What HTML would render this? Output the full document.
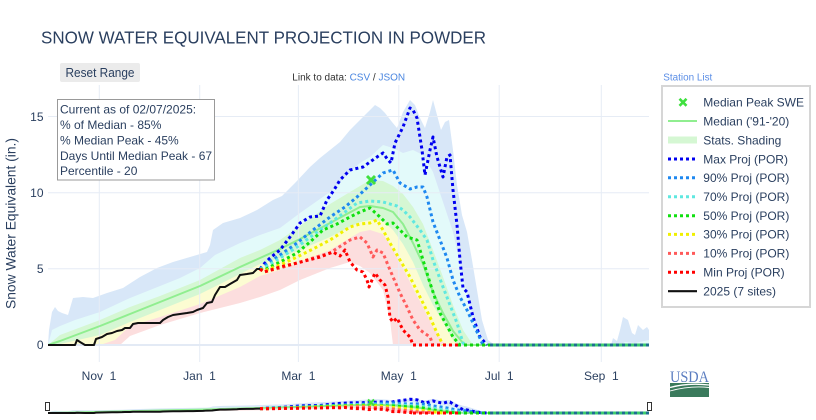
<!DOCTYPE html>
<html><head><meta charset="utf-8">
<style>
html,body{margin:0;padding:0;background:#fff;}
svg{display:block;font-family:"Liberation Sans",Arial,sans-serif;}
</style></head><body>
<svg width="816" height="420" viewBox="0 0 816 420" xmlns="http://www.w3.org/2000/svg">
<defs>
<clipPath id="pc"><rect x="48" y="85" width="601" height="277"/></clipPath>
<clipPath id="sc"><rect x="48" y="394" width="601" height="21"/></clipPath>
<g id="fills" stroke="none">
 <polygon fill="#d8e7f8" points="48,345 49,330 52,312 55,307 58,311 62,313 68,315 73,298 83,297 93,298 107,293 123,288 140,277 157,268 173,262 190,257 207,252 210,245 213,230 223,223 240,218 257,210 273,200 282,196 295,183 310,167 320,158 330,150 340,142 350,130 360,120 368,112 375,105 380,108 385,113 392,122 397,128 403,112 410,100 415,105 420,118 425,128 430,112 433,100 437,115 441,130 445,122 449,120 453,150 457,185 462,215 467,232 472,260 477,290 482,320 488,340 495,345 611,345 613,338 617,341 620,330 623,317 628,320 632,333 635,335 638,325 643,330 647,327 649,330 649,345"/>
 <polygon fill="#e3fafa" points="620,345 625,342 635,343 649,340 649,345"/>
 <polygon fill="#e3fafa" points="48,345 52,330 60,326 75,320 100,312 130,298 160,286 180,278 200,268 215,255 240,243 260,235 280,228 300,213 330,192 350,172 360,163 370,157 383,145 393,148 403,153 413,150 423,155 433,172 443,202 453,232 463,277 473,317 483,340 490,345"/>
 <polygon fill="#d5f7d3" points="48,345 60,335 100,320 130,307 160,296 200,280 240,258 260,250 280,240 300,226 330,204 360,186 370,180 383,181 393,186 403,194 413,207 423,224 433,250 443,277 453,305 463,330 473,345"/>
 <polygon fill="#fcfcd2" points="48,345 60,344 100,335 130,322 160,310 200,294 240,274 260,264 280,258 300,250 330,237 360,222 370,220 383,221 393,230 403,244 413,262 423,285 433,305 443,322 453,340 458,345"/>
 <polygon fill="#fcdede" points="48,345 100,345 115,340 130,326 160,317 200,304 240,287 260,276 280,270 300,262 330,250 360,232 370,230 383,234 393,250 403,268 413,288 423,307 433,327 443,342 447,345"/>
 <polygon fill="#ffffff" points="48,345 120,345 130,336 160,325 200,313 240,303 260,297 280,290 300,280 330,268 350,262 360,266 370,273 383,290 390,320 393,345"/>
</g>
<g id="lines" fill="none" stroke-linejoin="round">
 <polyline vector-effect="non-scaling-stroke" stroke="#90ee90" stroke-width="2" points="48,345 60,341 100,326 130,314 160,302 200,286 240,267 260,258 280,249 300,239 330,223 360,207 370,206 383,208 393,212 403,224 413,243 423,264 433,292 443,313 453,331 463,343 466,345 649,345"/>
 <polyline vector-effect="non-scaling-stroke" stroke="#0000f0" stroke-width="3" stroke-dasharray="3 3" points="260,269 264,264 270,258 280,250 290,237 300,223 310,217 320,216 327,200 334,190 340,180 350,170 363,167 377,157 383,153 388,160 391,163 395,143 403,127 410,108 413,110 417,118 422,150 425,175 430,150 433,137 437,157 443,177 447,157 450,155 453,190 457,225 460,260 463,288 467,292 473,317 480,337 487,345"/>
 <polyline vector-effect="non-scaling-stroke" stroke="#1e88f0" stroke-width="3" stroke-dasharray="3 3" points="260,269 264,266 280,255 297,243 313,230 330,217 345,207 357,197 370,185 383,173 393,170 400,183 410,189 417,187 423,187 427,197 433,222 440,240 447,258 453,280 460,297 467,310 473,323 483,345"/>
 <polyline vector-effect="non-scaling-stroke" stroke="#5fe8e0" stroke-width="3" stroke-dasharray="3 3" points="260,269 264,268 280,258 297,247 313,235 330,223 345,212 357,203 370,201 383,202 397,206 403,210 410,217 420,230 427,240 433,260 443,287 450,305 457,323 463,343 466,345"/>
 <polyline vector-effect="non-scaling-stroke" stroke="#10e010" stroke-width="3" stroke-dasharray="3 3" points="260,269 264,270 280,262 297,253 310,242 323,230 337,224 350,217 360,212 370,208 380,217 387,224 393,223 400,230 407,237 417,240 423,260 430,283 440,313 453,337 460,345"/>
 <polyline vector-effect="non-scaling-stroke" stroke="#f0f000" stroke-width="3" stroke-dasharray="3 3" points="260,269 264,271 280,265 297,257 313,249 330,240 350,227 360,224 370,223 377,220 383,230 390,243 400,260 410,277 420,297 430,317 437,333 443,345"/>
 <polyline vector-effect="non-scaling-stroke" stroke="#ff5a5a" stroke-width="3" stroke-dasharray="3 3" points="260,269 264,272 280,268 297,263 313,258 330,253 350,240 360,237 367,243 373,257 377,250 383,253 390,270 400,293 407,307 413,320 420,330 430,337 433,345"/>
 <polyline vector-effect="non-scaling-stroke" stroke="#ff0000" stroke-width="3" stroke-dasharray="3 3" points="260,269 264,272 280,267 297,263 320,257 333,252 340,256 345,250 350,262 357,270 363,272 367,280 369,287 372,280 375,273 380,280 385,285 388,297 390,318 393,322 397,318 403,330 410,337 413,345"/>
 <line vector-effect="non-scaling-stroke" x1="413" y1="345" x2="458" y2="345" stroke="#ff0000" stroke-width="3" stroke-dasharray="3 3"/>
 <line vector-effect="non-scaling-stroke" x1="458" y1="345" x2="490" y2="345" stroke="#10d010" stroke-width="3" stroke-dasharray="3 3"/>
 <line vector-effect="non-scaling-stroke" x1="490" y1="345" x2="649" y2="345" stroke="#3ccb6e" stroke-width="3"/>
 <line vector-effect="non-scaling-stroke" x1="490" y1="345" x2="649" y2="345" stroke="#1d6f8f" stroke-width="3" stroke-dasharray="3 3"/>
 <polyline vector-effect="non-scaling-stroke" stroke="#111" stroke-width="2" points="48,345 75,345 77,340 80,342 85,345 94,345 96,339 102,337 107,334 112,333 117,331 122,330 125,328 130,328 133,324 138,323 160,323 163,320 168,317 173,315 180,314 187,313 193,312 197,310 203,308 207,303 212,302 215,295 220,287 225,287 230,284 237,280 240,275 247,274 253,273 257,269 260,269"/>
</g>
</defs>

<!-- Title -->
<text x="41" y="43.3" font-size="17.5" fill="#2a3f5f" textLength="445" lengthAdjust="spacingAndGlyphs">SNOW WATER EQUIVALENT PROJECTION IN POWDER</text>

<!-- Reset Range button -->
<rect x="60" y="63" width="80" height="19" rx="2" fill="#ebebeb"/>
<text x="65.5" y="77" font-size="12.5" fill="#2a3f5f" textLength="69" lengthAdjust="spacingAndGlyphs">Reset Range</text>

<!-- Link to data -->
<text x="292.3" y="80.5" font-size="10" fill="#333"><tspan>Link to data: </tspan><tspan fill="#4a86e0">CSV</tspan><tspan> / </tspan><tspan fill="#4a86e0">JSON</tspan></text>

<!-- Station list -->
<text x="663.3" y="80.5" font-size="10" fill="#5b8ee6" textLength="49" lengthAdjust="spacingAndGlyphs">Station List</text>

<!-- Main plot -->
<g clip-path="url(#pc)">
 <use href="#fills"/>
 <g stroke="#e6ecf5" stroke-width="1">
  <line x1="99.3" y1="85" x2="99.3" y2="362"/>
  <line x1="199.7" y1="85" x2="199.7" y2="362"/>
  <line x1="298.4" y1="85" x2="298.4" y2="362"/>
  <line x1="398.8" y1="85" x2="398.8" y2="362"/>
  <line x1="499.2" y1="85" x2="499.2" y2="362"/>
  <line x1="601.3" y1="85" x2="601.3" y2="362"/>
  <line x1="48" y1="116.5" x2="649" y2="116.5"/>
  <line x1="48" y1="192.7" x2="649" y2="192.7"/>
  <line x1="48" y1="268.8" x2="649" y2="268.8"/>
 </g>
 <line x1="48" y1="345" x2="649" y2="345" stroke="#e3eaf5" stroke-width="2"/>
 <use href="#lines"/>
 <g stroke="#3fe03f" stroke-width="3">
  <line x1="367" y1="176" x2="375" y2="184"/>
  <line x1="375" y1="176" x2="367" y2="184"/>
 </g>
</g>

<!-- Y axis ticks -->
<g font-size="12" fill="#2a3f5f" text-anchor="end">
 <text x="43.5" y="121">15</text>
 <text x="43.5" y="197">10</text>
 <text x="43.5" y="273">5</text>
 <text x="43.5" y="349">0</text>
</g>
<text transform="translate(15.5,223.5) rotate(-90)" font-size="14" fill="#2a3f5f" text-anchor="middle" textLength="171" lengthAdjust="spacingAndGlyphs">Snow Water Equivalent (in.)</text>

<!-- X axis ticks -->
<g font-size="12" fill="#2a3f5f" text-anchor="middle">
 <text x="99" y="380">Nov&#160;&#160;1</text>
 <text x="199.5" y="380">Jan&#160;&#160;1</text>
 <text x="298.4" y="380">Mar&#160;&#160;1</text>
 <text x="398.8" y="380">May&#160;&#160;1</text>
 <text x="499.2" y="380">Jul&#160;&#160;1</text>
 <text x="601.3" y="380">Sep&#160;&#160;1</text>
</g>

<!-- Info box -->
<rect x="57.5" y="99.5" width="157" height="80.5" fill="#fff" stroke="#999" stroke-width="1"/>
<g font-size="12" fill="#2a3f5f">
 <text x="60" y="113.6">Current as of 02/07/2025:</text>
 <text x="60" y="129">% of Median - 85%</text>
 <text x="60" y="144.4">% Median Peak - 45%</text>
 <text x="60" y="159.8">Days Until Median Peak - 67</text>
 <text x="60" y="175.2">Percentile - 20</text>
</g>

<!-- Legend -->
<rect x="662" y="86" width="148" height="221" fill="#fff" stroke="#d6d6d6" stroke-width="2"/>
<g stroke="#3fe03f" stroke-width="2.6">
 <line x1="679.5" y1="98.8" x2="686.5" y2="105.8"/>
 <line x1="686.5" y1="98.8" x2="679.5" y2="105.8"/>
</g>
<line x1="668" y1="121" x2="697" y2="121" stroke="#90ee90" stroke-width="2"/>
<rect x="668" y="136.5" width="29" height="7" fill="#d5f7d3"/>
<g stroke-width="3" stroke-dasharray="3 3">
 <line x1="668" y1="159" x2="697" y2="159" stroke="#0000f0"/>
 <line x1="668" y1="177.8" x2="697" y2="177.8" stroke="#1e88f0"/>
 <line x1="668" y1="196.7" x2="697" y2="196.7" stroke="#5fe8e0"/>
 <line x1="668" y1="215.7" x2="697" y2="215.7" stroke="#10e010"/>
 <line x1="668" y1="234.4" x2="697" y2="234.4" stroke="#f0f000"/>
 <line x1="668" y1="253.4" x2="697" y2="253.4" stroke="#ff5a5a"/>
 <line x1="668" y1="272.3" x2="697" y2="272.3" stroke="#ff0000"/>
</g>
<line x1="668" y1="291.2" x2="697" y2="291.2" stroke="#111" stroke-width="2.2"/>
<g font-size="12" fill="#2a3f5f">
 <text x="703.3" y="106.6">Median Peak SWE</text>
 <text x="703.3" y="125.4">Median ('91-'20)</text>
 <text x="703.3" y="144.3">Stats. Shading</text>
 <text x="703.3" y="163.3">Max Proj (POR)</text>
 <text x="703.3" y="182.1">90% Proj (POR)</text>
 <text x="703.3" y="201">70% Proj (POR)</text>
 <text x="703.3" y="220">50% Proj (POR)</text>
 <text x="703.3" y="238.7">30% Proj (POR)</text>
 <text x="703.3" y="257.7">10% Proj (POR)</text>
 <text x="703.3" y="276.6">Min Proj (POR)</text>
 <text x="703.3" y="295.4">2025 (7 sites)</text>
</g>

<!-- Range slider -->
<g clip-path="url(#sc)">
 <g transform="matrix(1 0 0 0.058 0 392.99)">
  <use href="#fills"/>
  <use href="#lines"/>
 </g>
 <g stroke="#3fe03f" stroke-width="2">
  <line x1="368" y1="399.5" x2="374" y2="405.5"/>
  <line x1="374" y1="399.5" x2="368" y2="405.5"/>
 </g>
</g>
<rect x="45.5" y="402.5" width="4" height="8" fill="#fff" stroke="#333" stroke-width="1"/>
<rect x="647.5" y="402.5" width="4" height="8" fill="#fff" stroke="#333" stroke-width="1"/>

<!-- USDA logo -->
<text x="670" y="382" font-family="'Liberation Serif',serif" font-size="16" fill="#5b7dc0" textLength="39" lengthAdjust="spacingAndGlyphs">USDA</text>
<rect x="670" y="383" width="39" height="14" fill="#3a7a5c"/>
<path d="M670,387.5 Q688,382.5 709,385" stroke="#fff" stroke-width="1.3" fill="none"/>
<path d="M670,391 Q690,385.5 709,387.5" stroke="#fff" stroke-width="0.9" fill="none"/>
</svg>
</body></html>
